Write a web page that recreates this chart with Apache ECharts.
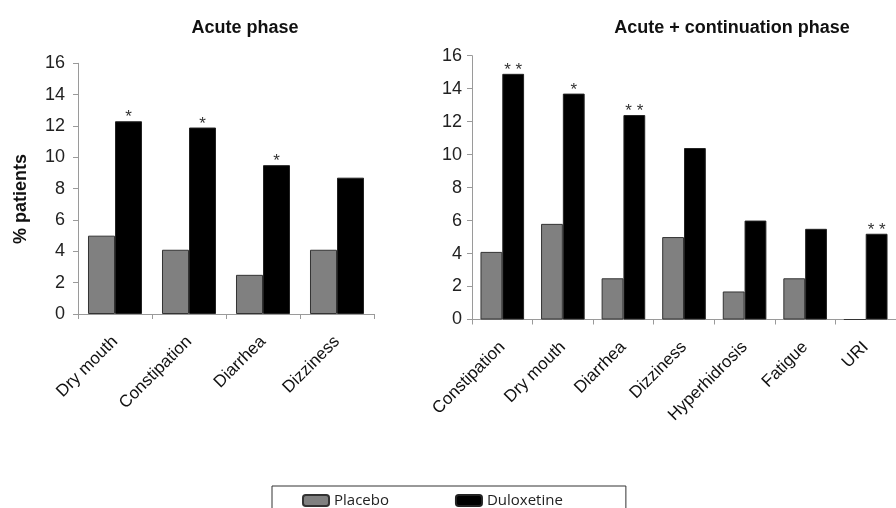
<!DOCTYPE html>
<html>
<head>
<meta charset="utf-8">
<script src="https://cdn.jsdelivr.net/npm/echarts@6/dist/echarts.min.js"></script>
<style>
  html, body { margin: 0; padding: 0; background: #fff; }
  #chart { width: 896px; height: 508px; }
</style>
</head>
<body>
<div id="chart"></div>
<script>
// Adverse events, % of patients, acute phase
const acuteCategories = ['Dry mouth', 'Constipation', 'Diarrhea', 'Dizziness'];
const acutePlacebo = [5.0, 4.1, 2.5, 4.1];
const acuteDuloxetine = [12.3, 11.9, 9.5, 8.7];
const acuteSignificance = ['*', '*', '*', ''];

// Adverse events, % of patients, acute + continuation phase
const contCategories = ['Constipation', 'Dry mouth', 'Diarrhea', 'Dizziness', 'Hyperhidrosis', 'Fatigue', 'URI'];
const contPlacebo = [4.1, 5.8, 2.5, 5.0, 1.7, 2.5, 0];
const contDuloxetine = [14.9, 13.7, 12.4, 10.4, 6.0, 5.5, 5.2];
const contSignificance = ['* *', '*', '* *', '', '', '', '* *'];

const yTicks = { min: 0, max: 16, interval: 2 };

const axisGrey = '#9a9a9a';
const FONT = 'Arial, "Liberation Sans", sans-serif';

function xAxisFor(gridIndex, cats) {
  return {
    type: 'category', gridIndex, data: cats,
    axisLine: { show: true, lineStyle: { color: axisGrey, width: 1 } },
    axisTick: { show: true, length: 5, lineStyle: { color: axisGrey } },
    axisLabel: { interval: 0, rotate: 45, margin: 25, fontFamily: FONT, fontSize: 17, color: '#111' }
  };
}
function yAxisFor(gridIndex, margin) {
  return {
    type: 'value', gridIndex, min: yTicks.min, max: yTicks.max, interval: yTicks.interval,
    axisLine: { show: true, lineStyle: { color: axisGrey, width: 1 } },
    axisTick: { show: true, length: 5, lineStyle: { color: axisGrey } },
    splitLine: { show: false },
    axisLabel: { margin, fontFamily: FONT, fontSize: 18, color: '#222' }
  };
}
function placeboSeries(idx, data, gap) {
  return {
    name: 'Placebo', type: 'bar', xAxisIndex: idx, yAxisIndex: idx, data,
    barGap: '0%', barCategoryGap: gap,
    itemStyle: { color: '#808080', borderColor: '#333', borderWidth: 1 }
  };
}
function duloxetineSeries(idx, data, sig, gap) {
  return {
    name: 'Duloxetine', type: 'bar', xAxisIndex: idx, yAxisIndex: idx, data,
    barGap: '0%', barCategoryGap: gap,
    itemStyle: { color: '#000', borderColor: '#222', borderWidth: 1 },
    label: {
      show: true, position: 'top', distance: -5,
      fontFamily: FONT, fontSize: 17, color: '#333',
      formatter: p => sig[p.dataIndex]
    }
  };
}

const chart = echarts.init(document.getElementById('chart'), null, { renderer: 'canvas' });
chart.setOption({
  animation: false,
  backgroundColor: '#fff',
  title: [
    { text: 'Acute phase', left: 240, top: 14, textAlign: 'center',
      textStyle: { fontFamily: FONT, fontSize: 18, fontWeight: 'bold', color: '#111' } },
    { text: 'Acute + continuation phase', left: 727, top: 14, textAlign: 'center',
      textStyle: { fontFamily: FONT, fontSize: 18, fontWeight: 'bold', color: '#111' } }
  ],
  legend: {
    data: ['Placebo', 'Duloxetine'],
    left: 272, top: 486,
    orient: 'horizontal',
    icon: 'roundRect',
    itemWidth: 26, itemHeight: 11, itemGap: 66,
    borderColor: '#333', borderWidth: 1,
    padding: [7, 63, 40, 30],
    textStyle: { fontFamily: '"Open Sans", sans-serif', fontSize: 15, color: '#222' }
  },
  grid: [
    { left: 78, top: 63.3, width: 296, height: 250.7 },
    { left: 472, top: 55.7, width: 433, height: 263.8 }
  ],
  xAxis: [xAxisFor(0, acuteCategories), xAxisFor(1, contCategories)],
  yAxis: [yAxisFor(0, 13), yAxisFor(1, 10)],
  graphic: [
    { type: 'text', x: 21, y: 199, rotation: Math.PI / 2,
      style: { text: '% patients', fontFamily: FONT, fontSize: 18, fontWeight: 'bold',
               fill: '#111', textAlign: 'center', textVerticalAlign: 'middle' } }
  ],
  series: [
    placeboSeries(0, acutePlacebo, '27%'),
    duloxetineSeries(0, acuteDuloxetine, acuteSignificance, '27%'),
    placeboSeries(1, contPlacebo, '28%'),
    duloxetineSeries(1, contDuloxetine, contSignificance, '28%')
  ]
});
</script>
</body>
</html>
